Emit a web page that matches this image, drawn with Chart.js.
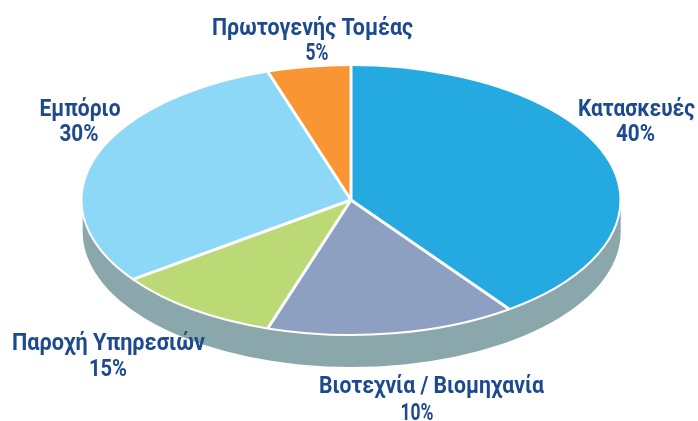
<!DOCTYPE html>
<html lang="el">
<head>
<meta charset="utf-8">
<style>html,body{margin:0;padding:0;background:#fff}#wrap{width:698px;height:421px}</style>
<script src="https://cdn.jsdelivr.net/npm/chart.js@4"></script>
</head>
<body>
<div id="wrap"><canvas id="c" width="698" height="421"></canvas></div>
<script>
const categories = ['Κατασκευές', 'Βιοτεχνία / Βιομηχανία', 'Παροχή Υπηρεσιών', 'Εμπόριο', 'Πρωτογενής Τομέας'];
const sliceValues = [40, 15, 10, 30, 5];
const printedPercents = ['40%', '10%', '15%', '30%', '5%'];
const sliceColors = ['#25a9e1', '#8da0c2', '#bbd975', '#8dd7f7', '#f99633'];

// [centre x, baseline y, fitted width] for the name and the percent of each slice
const namePlaces = [[636.5, 116, 117], [431.5, 393, 225], [108.5, 350, 193], [80, 116, 81], [312.5, 35, 201]];
const percentPlaces = [[635.5, 141, 39], [417, 420, 33], [108, 375.5, 38], [79, 141, 39], [317, 60, 23]];
const look = {cx: 351, cy: 200, rx: 269.5, ry: 135, sideCx: 351.7, sideRx: 269, depth: 32, side: '#8aa8ab', seam: 3, rim: 2, ink: '#1d4a8f'};

function squash(ctx, arc) {
  ctx.translate(look.cx, look.cy);
  ctx.scale(look.rx / arc.outerRadius, look.ry / arc.outerRadius);
  ctx.translate(-arc.x, -arc.y);
}
function strokeWhite(ctx, width) {
  ctx.save();
  ctx.strokeStyle = '#ffffff';
  ctx.lineWidth = width;
  ctx.lineJoin = 'round';
  ctx.stroke();
  ctx.restore();
}
const pie3d = {
  id: 'pie3d',
  beforeDatasetsDraw(chart) {
    const ctx = chart.ctx;
    ctx.save();
    ctx.fillStyle = look.side;
    ctx.beginPath();
    ctx.ellipse(look.sideCx, look.cy + look.depth, look.sideRx, look.ry, 0, 0, Math.PI);
    ctx.lineTo(look.sideCx - look.sideRx, look.cy);
    ctx.ellipse(look.sideCx, look.cy, look.sideRx, look.ry, 0, Math.PI, 0);
    ctx.closePath();
    ctx.fill();
    ctx.restore();
    ctx.save();
    squash(ctx, chart.getDatasetMeta(0).data[0]);
  },
  afterDatasetsDraw(chart) {
    const ctx = chart.ctx;
    ctx.restore();
    chart.getDatasetMeta(0).data.forEach(arc => {
      const ox = arc.x + arc.outerRadius * Math.cos(arc.startAngle);
      const oy = arc.y + arc.outerRadius * Math.sin(arc.startAngle);
      ctx.save();
      squash(ctx, arc);
      ctx.beginPath();
      ctx.arc(arc.x, arc.y, arc.outerRadius, arc.startAngle, arc.endAngle);
      ctx.restore();
      strokeWhite(ctx, look.rim);
      ctx.save();
      squash(ctx, arc);
      ctx.beginPath();
      ctx.moveTo(arc.x, arc.y);
      ctx.lineTo(ox, oy);
      ctx.restore();
      strokeWhite(ctx, look.seam);
    });
    ctx.save();
    ctx.fillStyle = look.ink;
    ctx.textAlign = 'center';
    ctx.textBaseline = 'alphabetic';
    ctx.font = '700 23.5px "Roboto"';
    categories.forEach((name, i) => {
      const a = namePlaces[i], b = percentPlaces[i];
      ctx.fillText(name, a[0], a[1], a[2]);
      ctx.fillText(printedPercents[i], b[0], b[1], b[2]);
    });
    ctx.restore();
  }
};

new Chart(document.getElementById('c'), {
  type: 'pie',
  data: {
    labels: categories,
    datasets: [{data: sliceValues, backgroundColor: sliceColors, borderWidth: 0, hoverBorderWidth: 0, clip: false}]
  },
  options: {
    responsive: false,
    animation: false,
    events: [],
    plugins: {legend: {display: false}, tooltip: {enabled: false}, title: {display: false}}
  },
  plugins: [pie3d]
});
</script>
</body>
</html>
